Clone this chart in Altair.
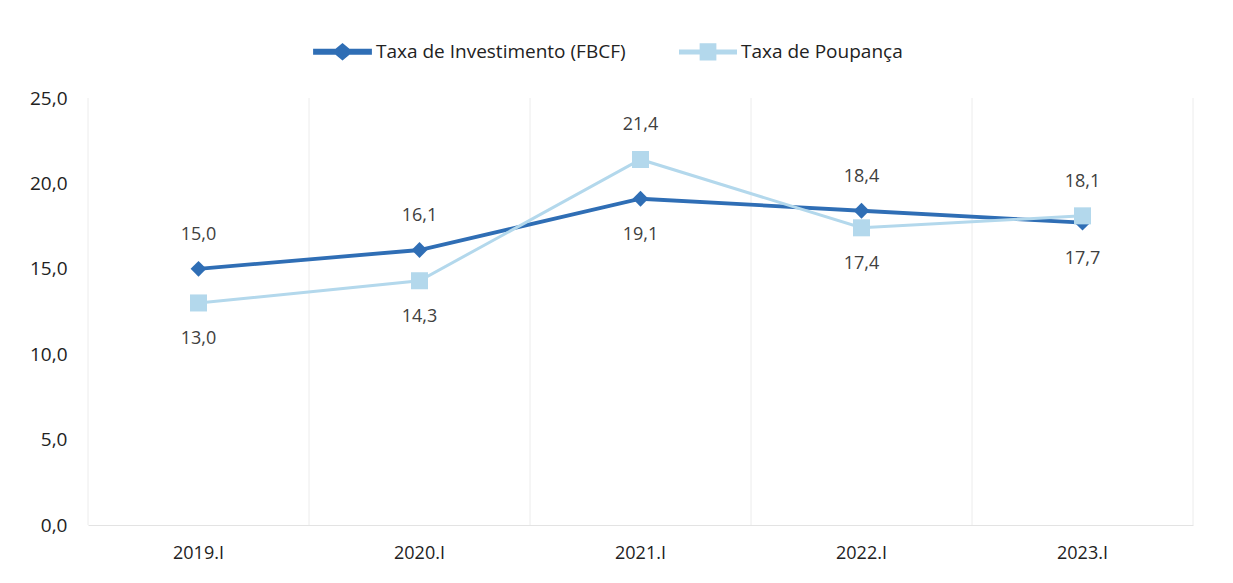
import altair as alt
import pandas as pd

periodos = ["2019.I", "2020.I", "2021.I", "2022.I", "2023.I"]
investimento = [15.0, 16.1, 19.1, 18.4, 17.7]
poupanca = [13.0, 14.3, 21.4, 17.4, 18.1]
series = ["Taxa de Investimento (FBCF)", "Taxa de Poupança"]
cores = ["#2F6EB5", "#B3D8EC"]
y_ticks = [0, 5, 10, 15, 20, 25]

rows = []
for i, p in enumerate(periodos):
    rows.append({"periodo": p, "serie": series[0], "valor": investimento[i],
                 "acima": investimento[i] >= poupanca[i]})
    rows.append({"periodo": p, "serie": series[1], "valor": poupanca[i],
                 "acima": poupanca[i] > investimento[i]})
df = pd.DataFrame(rows)
df_leg = pd.DataFrame({"serie": series})
df_per = pd.DataFrame({"periodo": periodos})

FONT = "Open Sans"
TXT = "#404040"

leg_props = dict(title=None, orient="none", direction="horizontal",
                 legendX=225, legendY=-76, labelFontSize=19,
                 labelFont=FONT, labelColor="#222", labelLimit=500,
                 symbolSize=3025, columnPadding=48, symbolStrokeWidth=0,
                 labelOffset=4)

xscale = alt.Scale(type="band", paddingInner=0, paddingOuter=0)
x_enc = alt.X("periodo:N", sort=periodos, title=None, scale=xscale,
              axis=alt.Axis(labelAngle=0, labelFontSize=18, labelColor="#222",
                            labelFont=FONT, ticks=False, domainColor="#e3e3e3",
                            labelPadding=28, grid=False, bandPosition=0.5,
                            labelAlign="center"))
y_enc = alt.Y("valor:Q", title=None,
              scale=alt.Scale(domain=[0, 25], nice=False),
              axis=alt.Axis(values=y_ticks, labelExpr="replace(format(datum.value, '.1f'), '.', ',')",
                            labelFontSize=19, labelColor="#222", labelFont=FONT,
                            ticks=False, domain=False, grid=False, labelPadding=21))
color_enc = alt.Color("serie:N", scale=alt.Scale(domain=series, range=cores),
                      legend=alt.Legend(**leg_props))

# faint vertical gridlines at category boundaries
grid_l = alt.Chart(df_per).mark_rule(color="#ececec", strokeWidth=1).encode(
    x=alt.X("periodo:N", sort=periodos, bandPosition=0),
    y=alt.datum(25), y2=alt.datum(0))
grid_r = alt.Chart(df_per).mark_rule(color="#ececec", strokeWidth=1).encode(
    x=alt.X("periodo:N", sort=periodos, bandPosition=1),
    y=alt.datum(25), y2=alt.datum(0)).transform_filter(alt.datum.periodo == periodos[-1])

base = alt.Chart(df).encode(x=x_enc, y=y_enc)

lines = base.mark_line().encode(
    color=color_enc,
    strokeWidth=alt.StrokeWidth("serie:N", scale=alt.Scale(domain=series, range=[3.8, 3.0]), legend=None),
    order=alt.Order("serie:N"))

pts_inv = base.mark_point(filled=True, opacity=1, shape="diamond", size=250).encode(
    color=color_enc).transform_filter(alt.datum.serie == series[0])
pts_pou = base.mark_point(filled=True, opacity=1, shape="square", size=290).encode(
    color=color_enc).transform_filter(alt.datum.serie == series[1])

lab = base.transform_calculate(
    rot="replace(format(datum.valor, '.1f'), '.', ',')")
lab_up = lab.mark_text(dy=-34, fontSize=18, font=FONT, color=TXT).encode(
    text="rot:N").transform_filter("datum.acima")
lab_dn = lab.mark_text(dy=36, fontSize=18, font=FONT, color=TXT).encode(
    text="rot:N").transform_filter("!datum.acima")

# legend helper layer (drawn outside the canvas), symbols = line + marker
sym_inv = "M-1,-0.04L-0.23,-0.04L0,-0.23L0.23,-0.04L1,-0.04L1,0.04L0.23,0.04L0,0.23L-0.23,0.04L-1,0.04Z"
sym_pou = "M-1,-0.035L-0.25,-0.035L-0.25,-0.26L0.25,-0.26L0.25,-0.035L1,-0.035L1,0.035L0.25,0.035L0.25,0.26L-0.25,0.26L-0.25,0.035L-1,0.035Z"
leg = alt.Chart(df_leg).mark_point(filled=True, opacity=1, size=3025, clip=True).encode(
    x=alt.value(-3000),
    y=alt.value(-3000),
    color=color_enc,
    shape=alt.Shape("serie:N", scale=alt.Scale(domain=series, range=[sym_inv, sym_pou]),
                    legend=alt.Legend(**leg_props)),
)

chart = alt.layer(grid_l, grid_r, lines, pts_inv, pts_pou, lab_up, lab_dn, leg).properties(
    width=1105, height=427,
    autosize=alt.AutoSizeParams(type="none"),
    padding={"left": 80, "top": 90, "right": 32, "bottom": 50},
    background="white",
).configure_view(stroke="transparent")

chart.save("out.html", embed_options={"renderer": "svg", "actions": False})
